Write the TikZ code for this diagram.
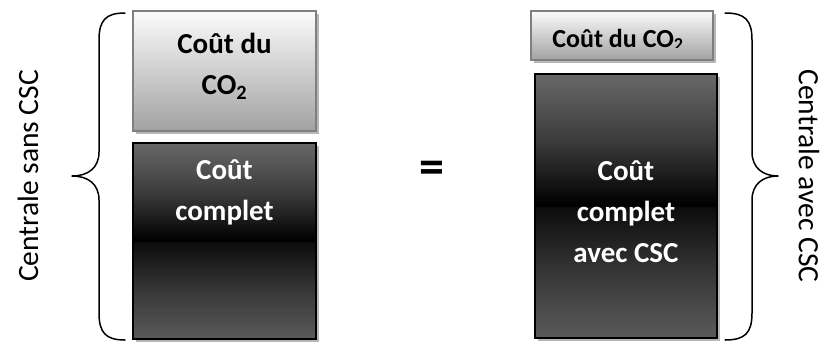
\documentclass[tikz,border=0pt]{standalone}
\usepackage{fontspec}
\setmainfont{Carlito}
\usetikzlibrary{shadows}

\definecolor{edgegray}{HTML}{7F7F7F}
\definecolor{lighttop}{HTML}{FBFBFB}
\definecolor{lightbot}{HTML}{A2A2A2}
\definecolor{upgray}{HTML}{686868}
\definecolor{upmid}{HTML}{3A3A3A}
\definecolor{lowgray}{HTML}{5A5A5A}
\definecolor{lowmid}{HTML}{383838}
\definecolor{nearblack}{HTML}{0C0C0C}

% dark "reflected" fill: grey at both edges, black along the middle
\pgfdeclareverticalshading{reflected}{100bp}{%
  color(0bp)=(lowgray); color(25bp)=(lowgray); color(37bp)=(lowmid);
  color(49.8bp)=(nearblack); color(50bp)=(black); color(50.2bp)=(black);
  color(62bp)=(upmid); color(75bp)=(upgray); color(100bp)=(upgray)}

\tikzset{
  boxshadow/.style={drop shadow={shadow xshift=3pt, shadow yshift=-3pt,
      fill=black!40, opacity=0.7}},
  lightbox/.style={draw=edgegray, line width=1.6pt, top color=lighttop,
      bottom color=lightbot, boxshadow, inner sep=0pt},
  darkbox/.style={draw=black, line width=1.8pt, shading=reflected,
      boxshadow, inner sep=0pt},
  darktext/.style={font=\bfseries\fontsize{29}{41}\selectfont, align=center},
  whitetext/.style={darktext, text=white},
  sidelabel/.style={font=\fontsize{29.5}{34}\selectfont},
  brace/.style={line width=1.5pt, line cap=round, line join=round}
}

\begin{document}
\begin{tikzpicture}[x=1pt, y=-1pt]
  \useasboundingbox (0,0) rectangle (827,343);

  % left column: plant without capture
  \node[lightbox, minimum width=183pt, minimum height=120pt] (ltop) at (224.5,71) {};
  \node[darkbox, minimum width=183pt, minimum height=196pt] (lbot) at (224.5,241) {};
  \node[darktext] (ltoptext) at (224.5,66) {Coût du\\CO\textsubscript{2}};
  \node[whitetext] (lbottext) at (224.5,192) {Coût\\complet};

  % right column: plant with capture
  \node[lightbox, minimum width=182pt, minimum height=49pt] (rtop) at (622,35.5) {};
  \node[darkbox, minimum width=182pt, minimum height=264pt] (rbot) at (626,206) {};
  \begin{scope}
    \clip (540,12) rectangle (705,47.5);
    \node[darktext, font=\bfseries\fontsize{26}{30}\selectfont] (rtoptext) at (618,40) {Coût du CO\textsubscript{2}};
  \end{scope}
  \node[whitetext] (rbottext) at (626,212) {Coût\\complet\\avec CSC};

  % equals sign between the columns
  \node[font=\bfseries\fontsize{50}{50}\selectfont] (eq) at (432,172) {=};

  % braces
  \coordinate (lb1) at (125,13);
  \coordinate (lb2) at (125,340);
  \coordinate (ltip) at (72,176);
  \draw[brace] (lb1) .. controls (106,13) and (99,20) .. (99,40)
     -- (99,152) .. controls (99,168) and (88,176) .. (ltip)
     .. controls (88,176) and (99,184) .. (99,200)
     -- (99,313) .. controls (99,333) and (106,340) .. (lb2);
  \coordinate (rb1) at (725,13);
  \coordinate (rb2) at (725,340);
  \coordinate (rtip) at (778,176);
  \draw[brace] (rb1) .. controls (745,13) and (752,20) .. (752,40)
     -- (752,152) .. controls (752,168) and (763,176) .. (rtip)
     .. controls (763,176) and (752,184) .. (752,200)
     -- (752,313) .. controls (752,333) and (745,340) .. (rb2);

  % side labels
  \node[sidelabel, rotate=90] (lside) at (28,176) {Centrale sans CSC};
  \node[sidelabel, rotate=-90] (rside) at (809,176) {Centrale avec CSC};
\end{tikzpicture}
\end{document}
